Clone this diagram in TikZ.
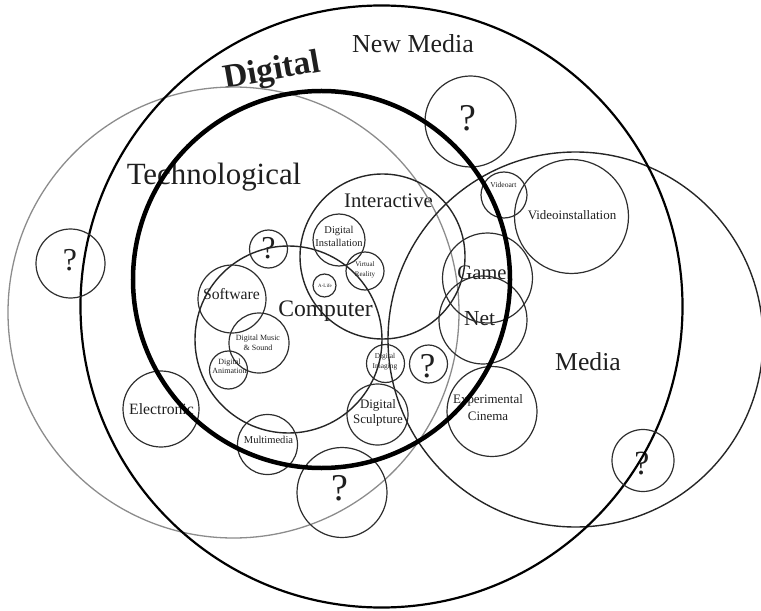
\documentclass[tikz,border=0pt]{standalone}
\usepackage{fontspec}
\setmainfont{Liberation Serif}
\begin{document}
\begin{tikzpicture}[x=1bp,y=-1bp,
  ring/.style={draw=black!82, line width=1.2bp},
  bigring/.style={draw=black!85, line width=1.4bp},
  techring/.style={draw=black!45, line width=1.3bp},
  newring/.style={draw=black, line width=2.2bp},
  digring/.style={draw=black, line width=4.5bp},
  lbl/.style={text=black!88, inner sep=0pt, align=center},
  qm/.style={lbl, font=\fontsize{#1}{#1}\selectfont},
]
\useasboundingbox (0,0) rectangle (761,611);

% ---- labels ----
\node[lbl, anchor=base, font=\fontsize{26}{30}\selectfont] (newmedia) at (413,52.3) {New Media};
\node[lbl, rotate=10, font=\bfseries\fontsize{34}{40}\selectfont] (digital) at (272,72) {Digital};
\node[lbl, anchor=base, font=\fontsize{31}{36}\selectfont] (techno) at (214,185) {Technological};
\node[lbl, anchor=base, font=\fontsize{20.8}{24}\selectfont] (interactive) at (388.5,207.3) {Interactive};
\node[lbl, anchor=base, font=\fontsize{23.7}{28}\selectfont] (computer) at (325.5,316) {Computer};
\node[lbl, anchor=base, font=\fontsize{15.8}{18}\selectfont] (software) at (231.5,299) {Software};
\node[lbl, anchor=base, font=\fontsize{20.7}{24}\selectfont] (game) at (482,279) {Game};
\node[lbl, anchor=base, font=\fontsize{21.5}{24}\selectfont] (net) at (479.5,325) {Net};
\node[lbl, anchor=base, font=\fontsize{25.8}{30}\selectfont] (media) at (588,370) {Media};
\node[lbl, anchor=base, font=\fontsize{13}{15}\selectfont] (videoinst) at (572,220) {Videoinstallation};
\node[lbl, anchor=base, font=\fontsize{7.6}{9}\selectfont] (videoart) at (503.5,187.7) {Videoart};
\node[lbl, anchor=base, font=\fontsize{15.8}{18}\selectfont] (electronic) at (161.5,414) {Electronic};
\node[lbl, anchor=base, font=\fontsize{10.6}{12}\selectfont] (multimedia) at (268.5,443.3) {Multimedia};
\node[lbl, anchor=base, font=\fontsize{5}{6}\selectfont] (alife) at (325,287) {A-Life};
\node[lbl, font=\fontsize{8}{10}\selectfont] (music) at (258,343) {Digital Music\\\& Sound};
\node[lbl, font=\fontsize{8}{9.5}\selectfont] (anim) at (229.5,366.5) {Digital\\Animation};
\node[lbl, font=\fontsize{10.5}{13}\selectfont] (install) at (339,236.5) {Digital\\Installation};
\node[lbl, font=\fontsize{7}{10}\selectfont] (vr) at (365,270) {Virtual\\Reality};
\node[lbl, font=\fontsize{7.4}{10}\selectfont] (imaging) at (385,362) {Digital\\Imaging};
\node[lbl, font=\fontsize{13}{15}\selectfont] (sculpt) at (378,412.5) {Digital\\Sculpture};
\node[lbl, font=\fontsize{13}{17}\selectfont] (cinema) at (488,407.5) {Experimental\\Cinema};

\node[qm=38] (q1) at (468,118) {?};
\node[qm=32] (q2) at (70,260) {?};
\node[qm=32] (q3) at (268.5,248) {?};
\node[qm=35] (q4) at (427.5,366) {?};
\node[qm=38] (q5) at (340,488) {?};
\node[qm=34] (q6) at (642,463.5) {?};

% ---- large sets ----
\draw[techring] (233.5,312.5) circle[radius=225.5bp];
\draw[bigring] (575.5,339.5) circle[radius=187.5bp];
\draw[newring] (381.5,306.5) circle[radius=301bp];
\draw[bigring] (288.5,339.5) circle[radius=93.5bp];
\draw[bigring] (382.5,256.5) circle[radius=82.5bp];

% ---- small sets ----
\draw[ring] (470.5,121.5) circle[radius=45.5bp];
\draw[ring] (70.5,263.5) circle[radius=34.5bp];
\draw[ring] (268.5,249) circle[radius=19bp];
\draw[ring] (339,240) circle[radius=26bp];
\draw[ring] (365,271) circle[radius=19bp];
\draw[ring] (324.5,285.5) circle[radius=11.5bp];
\draw[ring] (232,299) circle[radius=34bp];
\draw[ring] (259,343) circle[radius=30bp];
\draw[ring] (228.5,370) circle[radius=19bp];
\draw[ring] (385.5,363.5) circle[radius=19bp];
\draw[ring] (428.5,364) circle[radius=19bp];
\draw[ring] (377.5,414.5) circle[radius=30.5bp];
\draw[ring] (161,409) circle[radius=38bp];
\draw[ring] (267.5,444.5) circle[radius=30bp];
\draw[ring] (342,492.5) circle[radius=45bp];
\draw[ring] (643,460.5) circle[radius=31bp];
\draw[ring] (492,411.5) circle[radius=45bp];
\draw[ring] (487.5,278) circle[radius=45bp];
\draw[ring] (483,320) circle[radius=44bp];
\draw[ring] (504,195) circle[radius=23bp];
\draw[ring] (571.5,216.5) circle[radius=57bp];

% ---- Digital (thick) ----
\draw[digring] (321.5,279.5) circle[radius=188.5bp];
\end{tikzpicture}
\end{document}
